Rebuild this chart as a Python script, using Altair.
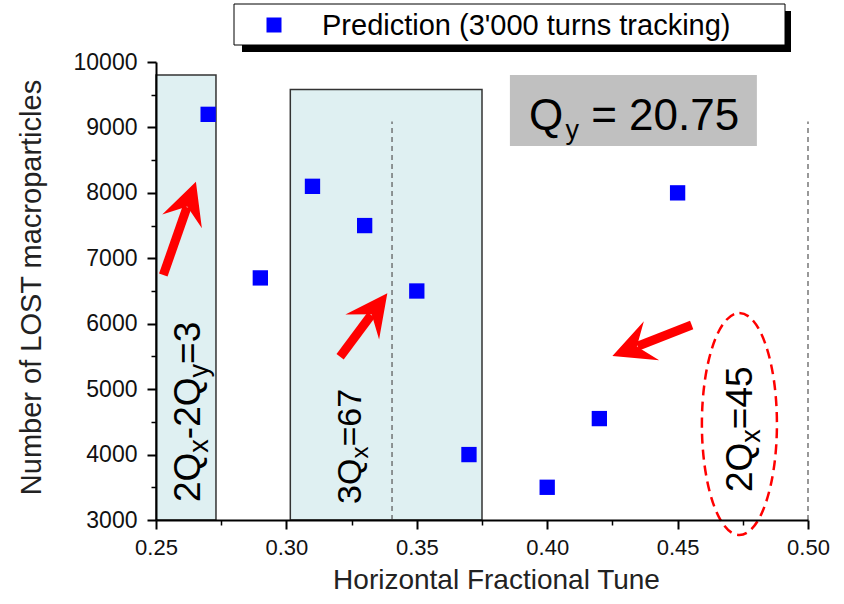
import math
import altair as alt
import pandas as pd

# ---------------- data ----------------
tune = [0.27, 0.29, 0.31, 0.33, 0.35, 0.37, 0.40, 0.42, 0.45]
lost = [9200, 6700, 8100, 7500, 6500, 4000, 3500, 4550, 8000]
series_name = "Prediction (3'000 turns tracking)"

x_major = [0.25, 0.30, 0.35, 0.40, 0.45, 0.50]
x_minor = [0.275, 0.325, 0.375, 0.425, 0.475]
y_major = [3000, 4000, 5000, 6000, 7000, 8000, 9000, 10000]
y_minor = [3500, 4500, 5500, 6500, 7500, 8500, 9500]

# shaded resonance bands
band_left = [0.25, 0.3015]
band_right = [0.273, 0.375]
band_bottom = [3000, 3000]
band_top = [9800, 9580]

# dashed resonance lines
line_x = [0.3405, 0.50]
line_bottom = [3000, 3000]
line_top = [9090, 9090]

# grey Qy box
qy_left = [0.3857]
qy_right = [0.4804]
qy_bottom = [8716]
qy_top = [9801]

# arrows (tail -> tip, data units)
arrow_tail_x = [0.2528, 0.3206, 0.4554]
arrow_tail_y = [6744, 5496, 5980]
arrow_tip_x = [0.2653, 0.3387, 0.4250]
arrow_tip_y = [8170, 6465, 5506]

# dashed ellipse around 2Qx=45
ellipse_cx = [0.4737]
ellipse_cy = [4467]

# rotated resonance labels (pieces, subscript flags, anchor, font size)
res_pieces = [["2Q", "x", "-2Q", "y", "=3"], ["3Q", "x", "=67"], ["2Q", "x", "=45"]]
res_subs = [[0, 1, 0, 1, 0], [0, 1, 0], [0, 1, 0]]
res_x = [0.2669, 0.3286, 0.4785]
res_y = [3275, 3245, 3428]
res_font = [37, 34, 37]

# Qy label
qy_pieces = ["Q", "y", "= 20.75"]
qy_subs = [0, 1, 0]
qy_x = [0.3930]
qy_y = [8961]
qy_font = 44

# ---------------- geometry helpers ----------------
W, H = 652, 458
X0, X1 = 0.25, 0.50
Y0, Y1 = 3000, 10000
FONT = "Liberation Sans"

def to_px(x, y):
    return (x - X0) / (X1 - X0) * W, (Y1 - y) / (Y1 - Y0) * H

def to_data(px, py):
    return X0 + px / W * (X1 - X0), Y1 - py / H * (Y1 - Y0)

EM = {"0": .556, "1": .556, "2": .556, "3": .556, "4": .556, "5": .556,
      "6": .556, "7": .556, "8": .556, "9": .556, "Q": .778, "-": .333,
      "=": .584, "x": .5, "y": .5, " ": .278, ".": .278}

def text_w(s, f):
    return sum(EM.get(c, .556) for c in s) * f

xs = alt.Scale(domain=[X0, X1], nice=False, zero=False)
ys = alt.Scale(domain=[Y0, Y1], nice=False, zero=False)

# ---------------- tables ----------------
pts = pd.DataFrame({"tune": tune, "lost": lost, "series": [series_name] * len(tune)})
bands = pd.DataFrame({"l": band_left, "r": band_right, "b": band_bottom, "t": band_top})
lines = pd.DataFrame({"x": line_x, "b": line_bottom, "t": line_top})
qybox = pd.DataFrame({"l": qy_left, "r": qy_right, "b": qy_bottom, "t": qy_top})

shaft_rows, head_rows = [], []
for tx, ty, hx, hy in zip(arrow_tail_x, arrow_tail_y, arrow_tip_x, arrow_tip_y):
    ax, ay = to_px(tx, ty)
    bx, by = to_px(hx, hy)
    L = math.hypot(bx - ax, by - ay)
    ux, uy = (bx - ax) / L, (by - ay) / L
    ex, ey = to_data(bx - 27 * ux, by - 27 * uy)
    cx, cy = to_data(bx - 21 * ux, by - 21 * uy)
    ang = math.degrees(math.atan2(ux, -uy)) % 360
    shaft_rows.append({"x": tx, "y": ty, "x2": ex, "y2": ey})
    head_rows.append({"x": cx, "y": cy, "angle": ang})
shafts = pd.DataFrame(shaft_rows)
heads = pd.DataFrame(head_rows)

ell = pd.DataFrame({"x": ellipse_cx, "y": ellipse_cy})

rot_rows = []
for pieces, subs, ox, oy, f in zip(res_pieces, res_subs, res_x, res_y, res_font):
    fs = round(f * 0.72)
    px0, py0 = to_px(ox, oy)
    along = 0.0
    for p, s in zip(pieces, subs):
        size = fs if s else f
        perp = 0.22 * f if s else 0.0
        dx, dy = to_data(px0 + perp, py0 - along)
        rot_rows.append({"x": dx, "y": dy, "text": p, "size": size})
        along += text_w(p, size)
rot = pd.DataFrame(rot_rows)

qy_rows = []
px0, py0 = to_px(qy_x[0], qy_y[0])
along = 0.0
for p, s in zip(qy_pieces, qy_subs):
    size = round(qy_font * 0.62) if s else qy_font
    drop = 9 if s else 0
    dx, dy = to_data(px0 + along, py0 + drop)
    qy_rows.append({"x": dx, "y": dy, "text": p, "size": size})
    along += text_w(p, size) + (0.05 * qy_font if not s else 0.28 * qy_font)
qytxt = pd.DataFrame(qy_rows)

one = pd.DataFrame({"k": [0]})

# ---------------- axes ----------------
common_axis = dict(grid=False, zindex=1, domainColor="black", tickColor="black",
                   labelColor="#111111", labelFont=FONT, titleFont=FONT,
                   titleColor="#222222", titleFontWeight="normal")
minor_common = dict(grid=False, zindex=1, tickColor="black", tickOpacity=1)

x_axis = alt.Axis(values=x_major, format=".2f", orient="bottom",
                  title="Horizontal Fractional Tune", tickSize=9, tickWidth=2,
                  domainWidth=2, labelFontSize=22, labelPadding=8,
                  labelFlush=False, titleFontSize=28, titleX=340, titleY=68,
                  titleAlign="center", titleBaseline="alphabetic", **common_axis)
y_axis = alt.Axis(values=y_major, format="d", orient="left",
                  title="Number of LOST macroparticles", tickSize=9, tickWidth=2,
                  domainWidth=2, labelFontSize=23, labelPadding=10,
                  titleFontSize=29, titleX=-116, titleY=225, titleAngle=270,
                  titleAlign="center", titleBaseline="alphabetic", **common_axis)
x_minor_axis = alt.Axis(values=x_minor, orient="bottom", labels=False, title=None,
                        domain=False, tickSize=5, tickWidth=1.5, **minor_common)
y_minor_axis = alt.Axis(values=y_minor, orient="left", labels=False, title=None,
                        domain=False, tickSize=5, tickWidth=1.5, **minor_common)

def X(field, axis=None):
    return alt.X(field, type="quantitative", scale=xs, axis=axis)

def Y(field, axis=None):
    return alt.Y(field, type="quantitative", scale=ys, axis=axis)

# ---------------- layers ----------------
band_layer = alt.Chart(bands).mark_rect(fill="#dff0f2", stroke="#333333", strokeWidth=1.5).encode(
    x=X("l"), x2="r", y=Y("b"), y2="t")

line_layer = alt.Chart(lines).mark_rule(color="#555555", strokeWidth=1.2, strokeDash=[5, 4]).encode(
    x=X("x"), y=Y("b"), y2="t")

qy_layer = alt.Chart(qybox).mark_rect(fill="#c0c0c0").encode(
    x=X("l"), x2="r", y=Y("b"), y2="t")

minor_layer = alt.Chart(pts).mark_point(opacity=0).encode(
    x=X("tune", x_minor_axis), y=Y("lost", y_minor_axis))

point_layer = alt.Chart(pts).mark_point(shape="square", filled=True, size=235,
                                         color="#0000ff", opacity=1).encode(
    x=X("tune", x_axis), y=Y("lost", y_axis))

shaft_layer = alt.Chart(shafts).mark_rule(color="#ff0000", strokeWidth=9, strokeCap="butt").encode(
    x=X("x"), y=Y("y"), x2="x2", y2="y2")

HEAD = "M0,-1 L1,1 L0,0.25 L-1,1 Z"
head_layer = alt.Chart(heads).mark_point(shape=HEAD, filled=True, size=1764,
                                         color="#ff0000", opacity=1, strokeWidth=0).encode(
    x=X("x"), y=Y("y"), angle=alt.Angle("angle:Q", scale=None))

ELLIPSE = "M0,-1 A0.338,1 0 1,1 0,1 A0.338,1 0 1,1 0,-1 Z"
ellipse_layer = alt.Chart(ell).mark_point(shape=ELLIPSE, filled=False, size=49284,
                                          stroke="#ff0000", strokeWidth=2.5,
                                          strokeDash=[10, 6], opacity=1).encode(
    x=X("x"), y=Y("y"))

rot_layer = alt.Chart(rot).mark_text(angle=270, align="left", baseline="alphabetic",
                                     font=FONT, color="black").encode(
    x=X("x"), y=Y("y"), text="text:N", size=alt.Size("size:Q", scale=None))

qytext_layer = alt.Chart(qytxt).mark_text(align="left", baseline="alphabetic",
                                          font=FONT, color="black").encode(
    x=X("x"), y=Y("y"), text="text:N", size=alt.Size("size:Q", scale=None))

# legend box (outside plot, pixel positions)
shadow_layer = alt.Chart(one).mark_rect(fill="black").encode(
    x=alt.value(86), x2=alt.value(635), y=alt.value(-51), y2=alt.value(-10))
box_layer = alt.Chart(one).mark_rect(fill="white", stroke="black", strokeWidth=1).encode(
    x=alt.value(78), x2=alt.value(629), y=alt.value(-58), y2=alt.value(-17))
swatch_layer = alt.Chart(one).mark_point(shape="square", filled=True, size=225,
                                         color="#0000ff", opacity=1).encode(
    x=alt.value(118), y=alt.value(-37))
legend_text = alt.Chart(one).mark_text(align="left", baseline="alphabetic", font=FONT,
                                       fontSize=29, color="black", text=series_name).encode(
    x=alt.value(166), y=alt.value(-27))

chart = alt.layer(
    band_layer, line_layer, qy_layer, minor_layer, point_layer,
    shaft_layer, head_layer, ellipse_layer, rot_layer, qytext_layer,
    shadow_layer, box_layer, swatch_layer, legend_text,
).resolve_axis(x="independent", y="independent").properties(
    width=W, height=H,
    padding={"left": 156, "top": 62, "right": 36, "bottom": 84},
    autosize=alt.AutoSizeParams(type="none"),
    background="white",
).configure_view(stroke=None)

chart.save("out.html", embed_options={"renderer": "svg", "actions": False})
